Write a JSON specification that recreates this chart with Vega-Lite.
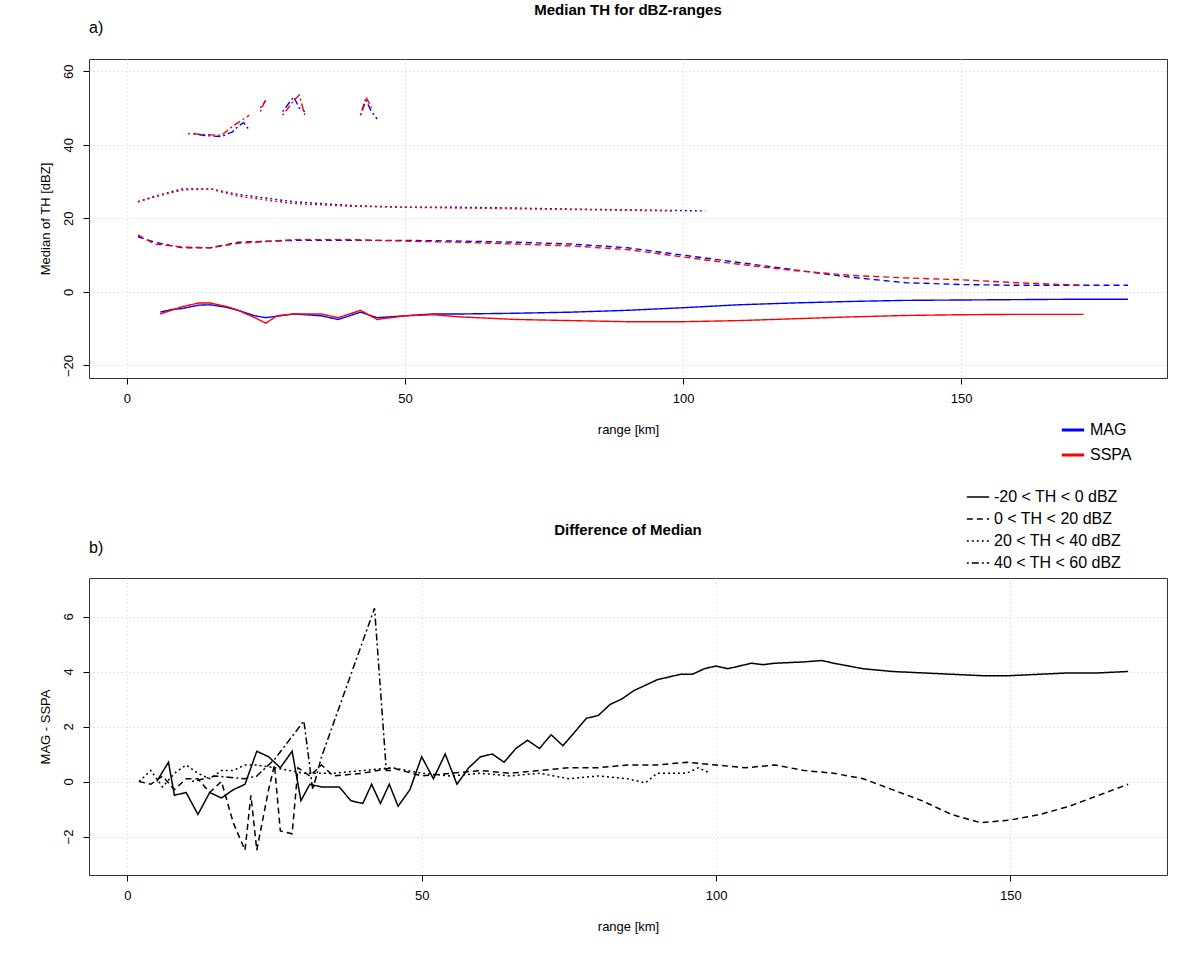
{
"$schema":"https://vega.github.io/schema/vega-lite/v6.json",
"padding":{"left":38,"top":2,"right":14,"bottom":5},
"background":"white",
"config":{"font":"Liberation Sans","view":{"stroke":"#333","strokeWidth":1},
"axis":{"labelFontSize":13,"titleFontSize":13,"titleFontWeight":"normal","labelColor":"black","titleColor":"black","domain":false,"tickColor":"black","tickSize":6,"grid":true,"gridDash":[1,3],"gridColor":"#ccc","labelPadding":8},
"title":{"fontSize":15,"fontWeight":"bold","anchor":"middle"}},
"datasets":{
"a":[
{"src":"MAG","type":"-20 < TH < 0 dBZ","seg":1,"x":6,"y":-5.5},{"src":"MAG","type":"-20 < TH < 0 dBZ","seg":1,"x":8,"y":-4.8},{"src":"MAG","type":"-20 < TH < 0 dBZ","seg":1,"x":10,"y":-4.5},{"src":"MAG","type":"-20 < TH < 0 dBZ","seg":1,"x":13,"y":-3.6},{"src":"MAG","type":"-20 < TH < 0 dBZ","seg":1,"x":15,"y":-3.5},{"src":"MAG","type":"-20 < TH < 0 dBZ","seg":1,"x":18,"y":-4.2},{"src":"MAG","type":"-20 < TH < 0 dBZ","seg":1,"x":20,"y":-5},{"src":"MAG","type":"-20 < TH < 0 dBZ","seg":1,"x":23,"y":-6.5},{"src":"MAG","type":"-20 < TH < 0 dBZ","seg":1,"x":25,"y":-7},{"src":"MAG","type":"-20 < TH < 0 dBZ","seg":1,"x":30,"y":-6},{"src":"MAG","type":"-20 < TH < 0 dBZ","seg":1,"x":35,"y":-6.5},{"src":"MAG","type":"-20 < TH < 0 dBZ","seg":1,"x":38,"y":-7.5},{"src":"MAG","type":"-20 < TH < 0 dBZ","seg":1,"x":42,"y":-5.5},{"src":"MAG","type":"-20 < TH < 0 dBZ","seg":1,"x":45,"y":-7},{"src":"MAG","type":"-20 < TH < 0 dBZ","seg":1,"x":50,"y":-6.5},{"src":"MAG","type":"-20 < TH < 0 dBZ","seg":1,"x":55,"y":-6},{"src":"MAG","type":"-20 < TH < 0 dBZ","seg":1,"x":60,"y":-6},{"src":"MAG","type":"-20 < TH < 0 dBZ","seg":1,"x":70,"y":-5.8},{"src":"MAG","type":"-20 < TH < 0 dBZ","seg":1,"x":80,"y":-5.5},{"src":"MAG","type":"-20 < TH < 0 dBZ","seg":1,"x":90,"y":-5},{"src":"MAG","type":"-20 < TH < 0 dBZ","seg":1,"x":100,"y":-4.3},{"src":"MAG","type":"-20 < TH < 0 dBZ","seg":1,"x":110,"y":-3.5},{"src":"MAG","type":"-20 < TH < 0 dBZ","seg":1,"x":120,"y":-3},{"src":"MAG","type":"-20 < TH < 0 dBZ","seg":1,"x":130,"y":-2.6},{"src":"MAG","type":"-20 < TH < 0 dBZ","seg":1,"x":140,"y":-2.3},{"src":"MAG","type":"-20 < TH < 0 dBZ","seg":1,"x":150,"y":-2.2},{"src":"MAG","type":"-20 < TH < 0 dBZ","seg":1,"x":160,"y":-2.1},{"src":"MAG","type":"-20 < TH < 0 dBZ","seg":1,"x":170,"y":-2},{"src":"MAG","type":"-20 < TH < 0 dBZ","seg":1,"x":180,"y":-2},
{"src":"SSPA","type":"-20 < TH < 0 dBZ","seg":1,"x":6,"y":-6},{"src":"SSPA","type":"-20 < TH < 0 dBZ","seg":1,"x":8,"y":-5},{"src":"SSPA","type":"-20 < TH < 0 dBZ","seg":1,"x":10,"y":-4},{"src":"SSPA","type":"-20 < TH < 0 dBZ","seg":1,"x":13,"y":-3},{"src":"SSPA","type":"-20 < TH < 0 dBZ","seg":1,"x":15,"y":-3},{"src":"SSPA","type":"-20 < TH < 0 dBZ","seg":1,"x":18,"y":-4},{"src":"SSPA","type":"-20 < TH < 0 dBZ","seg":1,"x":20,"y":-5},{"src":"SSPA","type":"-20 < TH < 0 dBZ","seg":1,"x":23,"y":-7},{"src":"SSPA","type":"-20 < TH < 0 dBZ","seg":1,"x":25,"y":-8.5},{"src":"SSPA","type":"-20 < TH < 0 dBZ","seg":1,"x":27,"y":-6.5},{"src":"SSPA","type":"-20 < TH < 0 dBZ","seg":1,"x":30,"y":-6},{"src":"SSPA","type":"-20 < TH < 0 dBZ","seg":1,"x":35,"y":-6},{"src":"SSPA","type":"-20 < TH < 0 dBZ","seg":1,"x":38,"y":-7},{"src":"SSPA","type":"-20 < TH < 0 dBZ","seg":1,"x":42,"y":-5},{"src":"SSPA","type":"-20 < TH < 0 dBZ","seg":1,"x":45,"y":-7.5},{"src":"SSPA","type":"-20 < TH < 0 dBZ","seg":1,"x":50,"y":-6.5},{"src":"SSPA","type":"-20 < TH < 0 dBZ","seg":1,"x":55,"y":-6.2},{"src":"SSPA","type":"-20 < TH < 0 dBZ","seg":1,"x":60,"y":-6.8},{"src":"SSPA","type":"-20 < TH < 0 dBZ","seg":1,"x":70,"y":-7.5},{"src":"SSPA","type":"-20 < TH < 0 dBZ","seg":1,"x":80,"y":-7.8},{"src":"SSPA","type":"-20 < TH < 0 dBZ","seg":1,"x":90,"y":-8.1},{"src":"SSPA","type":"-20 < TH < 0 dBZ","seg":1,"x":100,"y":-8.1},{"src":"SSPA","type":"-20 < TH < 0 dBZ","seg":1,"x":110,"y":-7.8},{"src":"SSPA","type":"-20 < TH < 0 dBZ","seg":1,"x":120,"y":-7.3},{"src":"SSPA","type":"-20 < TH < 0 dBZ","seg":1,"x":130,"y":-6.8},{"src":"SSPA","type":"-20 < TH < 0 dBZ","seg":1,"x":140,"y":-6.4},{"src":"SSPA","type":"-20 < TH < 0 dBZ","seg":1,"x":150,"y":-6.2},{"src":"SSPA","type":"-20 < TH < 0 dBZ","seg":1,"x":160,"y":-6.1},{"src":"SSPA","type":"-20 < TH < 0 dBZ","seg":1,"x":172,"y":-6.1},
{"src":"MAG","type":"0 < TH < 20 dBZ","seg":1,"x":2,"y":15},{"src":"MAG","type":"0 < TH < 20 dBZ","seg":1,"x":5,"y":13.5},{"src":"MAG","type":"0 < TH < 20 dBZ","seg":1,"x":10,"y":12},{"src":"MAG","type":"0 < TH < 20 dBZ","seg":1,"x":15,"y":12},{"src":"MAG","type":"0 < TH < 20 dBZ","seg":1,"x":20,"y":13.5},{"src":"MAG","type":"0 < TH < 20 dBZ","seg":1,"x":30,"y":14},{"src":"MAG","type":"0 < TH < 20 dBZ","seg":1,"x":40,"y":14},{"src":"MAG","type":"0 < TH < 20 dBZ","seg":1,"x":50,"y":14},{"src":"MAG","type":"0 < TH < 20 dBZ","seg":1,"x":60,"y":13.8},{"src":"MAG","type":"0 < TH < 20 dBZ","seg":1,"x":70,"y":13.5},{"src":"MAG","type":"0 < TH < 20 dBZ","seg":1,"x":80,"y":13},{"src":"MAG","type":"0 < TH < 20 dBZ","seg":1,"x":90,"y":12},{"src":"MAG","type":"0 < TH < 20 dBZ","seg":1,"x":100,"y":10},{"src":"MAG","type":"0 < TH < 20 dBZ","seg":1,"x":110,"y":8},{"src":"MAG","type":"0 < TH < 20 dBZ","seg":1,"x":120,"y":6},{"src":"MAG","type":"0 < TH < 20 dBZ","seg":1,"x":130,"y":4},{"src":"MAG","type":"0 < TH < 20 dBZ","seg":1,"x":140,"y":2.5},{"src":"MAG","type":"0 < TH < 20 dBZ","seg":1,"x":150,"y":2},{"src":"MAG","type":"0 < TH < 20 dBZ","seg":1,"x":160,"y":1.8},{"src":"MAG","type":"0 < TH < 20 dBZ","seg":1,"x":170,"y":1.8},{"src":"MAG","type":"0 < TH < 20 dBZ","seg":1,"x":180,"y":1.8},
{"src":"SSPA","type":"0 < TH < 20 dBZ","seg":1,"x":2,"y":15.5},{"src":"SSPA","type":"0 < TH < 20 dBZ","seg":1,"x":5,"y":13},{"src":"SSPA","type":"0 < TH < 20 dBZ","seg":1,"x":10,"y":12.2},{"src":"SSPA","type":"0 < TH < 20 dBZ","seg":1,"x":15,"y":12},{"src":"SSPA","type":"0 < TH < 20 dBZ","seg":1,"x":20,"y":13.2},{"src":"SSPA","type":"0 < TH < 20 dBZ","seg":1,"x":30,"y":14.2},{"src":"SSPA","type":"0 < TH < 20 dBZ","seg":1,"x":40,"y":14.2},{"src":"SSPA","type":"0 < TH < 20 dBZ","seg":1,"x":50,"y":13.8},{"src":"SSPA","type":"0 < TH < 20 dBZ","seg":1,"x":60,"y":13.5},{"src":"SSPA","type":"0 < TH < 20 dBZ","seg":1,"x":70,"y":13},{"src":"SSPA","type":"0 < TH < 20 dBZ","seg":1,"x":80,"y":12.5},{"src":"SSPA","type":"0 < TH < 20 dBZ","seg":1,"x":90,"y":11.5},{"src":"SSPA","type":"0 < TH < 20 dBZ","seg":1,"x":100,"y":9.5},{"src":"SSPA","type":"0 < TH < 20 dBZ","seg":1,"x":110,"y":7.5},{"src":"SSPA","type":"0 < TH < 20 dBZ","seg":1,"x":120,"y":5.8},{"src":"SSPA","type":"0 < TH < 20 dBZ","seg":1,"x":130,"y":4.5},{"src":"SSPA","type":"0 < TH < 20 dBZ","seg":1,"x":140,"y":3.8},{"src":"SSPA","type":"0 < TH < 20 dBZ","seg":1,"x":150,"y":3.3},{"src":"SSPA","type":"0 < TH < 20 dBZ","seg":1,"x":160,"y":2.5},{"src":"SSPA","type":"0 < TH < 20 dBZ","seg":1,"x":172,"y":1.8},
{"src":"MAG","type":"20 < TH < 40 dBZ","seg":1,"x":2,"y":24.5},{"src":"MAG","type":"20 < TH < 40 dBZ","seg":1,"x":5,"y":26},{"src":"MAG","type":"20 < TH < 40 dBZ","seg":1,"x":10,"y":28},{"src":"MAG","type":"20 < TH < 40 dBZ","seg":1,"x":15,"y":28},{"src":"MAG","type":"20 < TH < 40 dBZ","seg":1,"x":20,"y":26.5},{"src":"MAG","type":"20 < TH < 40 dBZ","seg":1,"x":30,"y":24.5},{"src":"MAG","type":"20 < TH < 40 dBZ","seg":1,"x":40,"y":23.5},{"src":"MAG","type":"20 < TH < 40 dBZ","seg":1,"x":50,"y":23},{"src":"MAG","type":"20 < TH < 40 dBZ","seg":1,"x":60,"y":23},{"src":"MAG","type":"20 < TH < 40 dBZ","seg":1,"x":70,"y":22.8},{"src":"MAG","type":"20 < TH < 40 dBZ","seg":1,"x":80,"y":22.5},{"src":"MAG","type":"20 < TH < 40 dBZ","seg":1,"x":90,"y":22.3},{"src":"MAG","type":"20 < TH < 40 dBZ","seg":1,"x":104,"y":22},
{"src":"SSPA","type":"20 < TH < 40 dBZ","seg":1,"x":2,"y":24.5},{"src":"SSPA","type":"20 < TH < 40 dBZ","seg":1,"x":5,"y":25.8},{"src":"SSPA","type":"20 < TH < 40 dBZ","seg":1,"x":10,"y":27.7},{"src":"SSPA","type":"20 < TH < 40 dBZ","seg":1,"x":15,"y":28},{"src":"SSPA","type":"20 < TH < 40 dBZ","seg":1,"x":20,"y":26},{"src":"SSPA","type":"20 < TH < 40 dBZ","seg":1,"x":30,"y":24},{"src":"SSPA","type":"20 < TH < 40 dBZ","seg":1,"x":40,"y":23.3},{"src":"SSPA","type":"20 < TH < 40 dBZ","seg":1,"x":50,"y":23},{"src":"SSPA","type":"20 < TH < 40 dBZ","seg":1,"x":60,"y":22.8},{"src":"SSPA","type":"20 < TH < 40 dBZ","seg":1,"x":70,"y":22.6},{"src":"SSPA","type":"20 < TH < 40 dBZ","seg":1,"x":80,"y":22.4},{"src":"SSPA","type":"20 < TH < 40 dBZ","seg":1,"x":90,"y":22.2},{"src":"SSPA","type":"20 < TH < 40 dBZ","seg":1,"x":98,"y":22},
{"src":"MAG","type":"40 < TH < 60 dBZ","seg":1,"x":12,"y":43},{"src":"MAG","type":"40 < TH < 60 dBZ","seg":1,"x":14,"y":42.5},{"src":"MAG","type":"40 < TH < 60 dBZ","seg":1,"x":17,"y":42.2},{"src":"MAG","type":"40 < TH < 60 dBZ","seg":1,"x":19,"y":43.5},{"src":"MAG","type":"40 < TH < 60 dBZ","seg":1,"x":20,"y":45},{"src":"MAG","type":"40 < TH < 60 dBZ","seg":1,"x":21,"y":46},{"src":"MAG","type":"40 < TH < 60 dBZ","seg":1,"x":22,"y":44},
{"src":"MAG","type":"40 < TH < 60 dBZ","seg":2,"x":24,"y":50},{"src":"MAG","type":"40 < TH < 60 dBZ","seg":2,"x":25,"y":52},
{"src":"MAG","type":"40 < TH < 60 dBZ","seg":3,"x":28,"y":49},{"src":"MAG","type":"40 < TH < 60 dBZ","seg":3,"x":29,"y":51},{"src":"MAG","type":"40 < TH < 60 dBZ","seg":3,"x":30,"y":53},{"src":"MAG","type":"40 < TH < 60 dBZ","seg":3,"x":31,"y":50},{"src":"MAG","type":"40 < TH < 60 dBZ","seg":3,"x":32,"y":49},
{"src":"MAG","type":"40 < TH < 60 dBZ","seg":4,"x":42,"y":48},{"src":"MAG","type":"40 < TH < 60 dBZ","seg":4,"x":43,"y":52},{"src":"MAG","type":"40 < TH < 60 dBZ","seg":4,"x":44,"y":49},{"src":"MAG","type":"40 < TH < 60 dBZ","seg":4,"x":45,"y":47},
{"src":"SSPA","type":"40 < TH < 60 dBZ","seg":1,"x":11,"y":43},{"src":"SSPA","type":"40 < TH < 60 dBZ","seg":1,"x":14,"y":42.8},{"src":"SSPA","type":"40 < TH < 60 dBZ","seg":1,"x":17,"y":42.5},{"src":"SSPA","type":"40 < TH < 60 dBZ","seg":1,"x":19,"y":45},{"src":"SSPA","type":"40 < TH < 60 dBZ","seg":1,"x":21,"y":47},{"src":"SSPA","type":"40 < TH < 60 dBZ","seg":1,"x":22,"y":48},
{"src":"SSPA","type":"40 < TH < 60 dBZ","seg":2,"x":24,"y":49},{"src":"SSPA","type":"40 < TH < 60 dBZ","seg":2,"x":25,"y":52.5},
{"src":"SSPA","type":"40 < TH < 60 dBZ","seg":3,"x":28,"y":48},{"src":"SSPA","type":"40 < TH < 60 dBZ","seg":3,"x":30,"y":52},{"src":"SSPA","type":"40 < TH < 60 dBZ","seg":3,"x":31,"y":53.5},{"src":"SSPA","type":"40 < TH < 60 dBZ","seg":3,"x":32,"y":48},
{"src":"SSPA","type":"40 < TH < 60 dBZ","seg":4,"x":42,"y":48},{"src":"SSPA","type":"40 < TH < 60 dBZ","seg":4,"x":43,"y":53},{"src":"SSPA","type":"40 < TH < 60 dBZ","seg":4,"x":44,"y":50}
],
"b":[
{"type":"-20 < TH < 0 dBZ","x":5,"y":0},{"type":"-20 < TH < 0 dBZ","x":7,"y":0.7},{"type":"-20 < TH < 0 dBZ","x":8,"y":-0.5},{"type":"-20 < TH < 0 dBZ","x":10,"y":-0.4},{"type":"-20 < TH < 0 dBZ","x":12,"y":-1.2},{"type":"-20 < TH < 0 dBZ","x":14,"y":-0.4},{"type":"-20 < TH < 0 dBZ","x":16,"y":-0.6},{"type":"-20 < TH < 0 dBZ","x":18,"y":-0.3},{"type":"-20 < TH < 0 dBZ","x":20,"y":-0.1},{"type":"-20 < TH < 0 dBZ","x":22,"y":1.1},{"type":"-20 < TH < 0 dBZ","x":24,"y":0.9},{"type":"-20 < TH < 0 dBZ","x":26,"y":0.5},{"type":"-20 < TH < 0 dBZ","x":28,"y":1.1},{"type":"-20 < TH < 0 dBZ","x":29.5,"y":-0.7},{"type":"-20 < TH < 0 dBZ","x":31,"y":-0.1},{"type":"-20 < TH < 0 dBZ","x":33,"y":-0.2},{"type":"-20 < TH < 0 dBZ","x":36,"y":-0.2},{"type":"-20 < TH < 0 dBZ","x":38,"y":-0.7},{"type":"-20 < TH < 0 dBZ","x":40,"y":-0.8},{"type":"-20 < TH < 0 dBZ","x":41.5,"y":-0.1},{"type":"-20 < TH < 0 dBZ","x":43,"y":-0.8},{"type":"-20 < TH < 0 dBZ","x":44.5,"y":-0.1},{"type":"-20 < TH < 0 dBZ","x":46,"y":-0.9},{"type":"-20 < TH < 0 dBZ","x":48,"y":-0.3},{"type":"-20 < TH < 0 dBZ","x":50,"y":0.9},{"type":"-20 < TH < 0 dBZ","x":52,"y":0.1},{"type":"-20 < TH < 0 dBZ","x":54,"y":1.0},{"type":"-20 < TH < 0 dBZ","x":56,"y":-0.1},{"type":"-20 < TH < 0 dBZ","x":58,"y":0.5},{"type":"-20 < TH < 0 dBZ","x":60,"y":0.9},{"type":"-20 < TH < 0 dBZ","x":62,"y":1.0},{"type":"-20 < TH < 0 dBZ","x":64,"y":0.7},{"type":"-20 < TH < 0 dBZ","x":66,"y":1.2},{"type":"-20 < TH < 0 dBZ","x":68,"y":1.5},{"type":"-20 < TH < 0 dBZ","x":70,"y":1.2},{"type":"-20 < TH < 0 dBZ","x":72,"y":1.7},{"type":"-20 < TH < 0 dBZ","x":74,"y":1.3},{"type":"-20 < TH < 0 dBZ","x":76,"y":1.8},{"type":"-20 < TH < 0 dBZ","x":78,"y":2.3},{"type":"-20 < TH < 0 dBZ","x":80,"y":2.4},{"type":"-20 < TH < 0 dBZ","x":82,"y":2.8},{"type":"-20 < TH < 0 dBZ","x":84,"y":3.0},{"type":"-20 < TH < 0 dBZ","x":86,"y":3.3},{"type":"-20 < TH < 0 dBZ","x":88,"y":3.5},{"type":"-20 < TH < 0 dBZ","x":90,"y":3.7},{"type":"-20 < TH < 0 dBZ","x":92,"y":3.8},{"type":"-20 < TH < 0 dBZ","x":94,"y":3.9},{"type":"-20 < TH < 0 dBZ","x":96,"y":3.9},{"type":"-20 < TH < 0 dBZ","x":98,"y":4.1},{"type":"-20 < TH < 0 dBZ","x":100,"y":4.2},{"type":"-20 < TH < 0 dBZ","x":102,"y":4.1},{"type":"-20 < TH < 0 dBZ","x":104,"y":4.2},{"type":"-20 < TH < 0 dBZ","x":106,"y":4.3},{"type":"-20 < TH < 0 dBZ","x":108,"y":4.25},{"type":"-20 < TH < 0 dBZ","x":110,"y":4.3},{"type":"-20 < TH < 0 dBZ","x":115,"y":4.35},{"type":"-20 < TH < 0 dBZ","x":118,"y":4.4},{"type":"-20 < TH < 0 dBZ","x":120,"y":4.3},{"type":"-20 < TH < 0 dBZ","x":125,"y":4.1},{"type":"-20 < TH < 0 dBZ","x":130,"y":4.0},{"type":"-20 < TH < 0 dBZ","x":135,"y":3.95},{"type":"-20 < TH < 0 dBZ","x":140,"y":3.9},{"type":"-20 < TH < 0 dBZ","x":145,"y":3.85},{"type":"-20 < TH < 0 dBZ","x":150,"y":3.85},{"type":"-20 < TH < 0 dBZ","x":155,"y":3.9},{"type":"-20 < TH < 0 dBZ","x":160,"y":3.95},{"type":"-20 < TH < 0 dBZ","x":165,"y":3.95},{"type":"-20 < TH < 0 dBZ","x":170,"y":4.0},
{"type":"0 < TH < 20 dBZ","x":2,"y":0},{"type":"0 < TH < 20 dBZ","x":4,"y":-0.1},{"type":"0 < TH < 20 dBZ","x":6,"y":0.2},{"type":"0 < TH < 20 dBZ","x":8,"y":-0.3},{"type":"0 < TH < 20 dBZ","x":10,"y":0.1},{"type":"0 < TH < 20 dBZ","x":12,"y":0.1},{"type":"0 < TH < 20 dBZ","x":14,"y":-0.4},{"type":"0 < TH < 20 dBZ","x":16,"y":0},{"type":"0 < TH < 20 dBZ","x":18,"y":-1.5},{"type":"0 < TH < 20 dBZ","x":20,"y":-2.5},{"type":"0 < TH < 20 dBZ","x":21,"y":-0.5},{"type":"0 < TH < 20 dBZ","x":22,"y":-2.5},{"type":"0 < TH < 20 dBZ","x":24,"y":-0.3},{"type":"0 < TH < 20 dBZ","x":25,"y":0.6},{"type":"0 < TH < 20 dBZ","x":26,"y":-1.8},{"type":"0 < TH < 20 dBZ","x":28,"y":-1.9},{"type":"0 < TH < 20 dBZ","x":29,"y":0.5},{"type":"0 < TH < 20 dBZ","x":31,"y":0.2},{"type":"0 < TH < 20 dBZ","x":33,"y":0.6},{"type":"0 < TH < 20 dBZ","x":35,"y":0.2},{"type":"0 < TH < 20 dBZ","x":40,"y":0.3},{"type":"0 < TH < 20 dBZ","x":45,"y":0.5},{"type":"0 < TH < 20 dBZ","x":50,"y":0.2},{"type":"0 < TH < 20 dBZ","x":55,"y":0.3},{"type":"0 < TH < 20 dBZ","x":60,"y":0.4},{"type":"0 < TH < 20 dBZ","x":65,"y":0.3},{"type":"0 < TH < 20 dBZ","x":70,"y":0.4},{"type":"0 < TH < 20 dBZ","x":75,"y":0.5},{"type":"0 < TH < 20 dBZ","x":80,"y":0.5},{"type":"0 < TH < 20 dBZ","x":85,"y":0.6},{"type":"0 < TH < 20 dBZ","x":90,"y":0.6},{"type":"0 < TH < 20 dBZ","x":95,"y":0.7},{"type":"0 < TH < 20 dBZ","x":100,"y":0.6},{"type":"0 < TH < 20 dBZ","x":105,"y":0.5},{"type":"0 < TH < 20 dBZ","x":110,"y":0.6},{"type":"0 < TH < 20 dBZ","x":115,"y":0.4},{"type":"0 < TH < 20 dBZ","x":120,"y":0.3},{"type":"0 < TH < 20 dBZ","x":125,"y":0.1},{"type":"0 < TH < 20 dBZ","x":130,"y":-0.3},{"type":"0 < TH < 20 dBZ","x":135,"y":-0.7},{"type":"0 < TH < 20 dBZ","x":140,"y":-1.2},{"type":"0 < TH < 20 dBZ","x":145,"y":-1.5},{"type":"0 < TH < 20 dBZ","x":150,"y":-1.4},{"type":"0 < TH < 20 dBZ","x":155,"y":-1.2},{"type":"0 < TH < 20 dBZ","x":160,"y":-0.9},{"type":"0 < TH < 20 dBZ","x":165,"y":-0.5},{"type":"0 < TH < 20 dBZ","x":170,"y":-0.1},
{"type":"20 < TH < 40 dBZ","x":2,"y":0},{"type":"20 < TH < 40 dBZ","x":4,"y":0.4},{"type":"20 < TH < 40 dBZ","x":6,"y":-0.2},{"type":"20 < TH < 40 dBZ","x":8,"y":0.3},{"type":"20 < TH < 40 dBZ","x":10,"y":0.6},{"type":"20 < TH < 40 dBZ","x":12,"y":0.3},{"type":"20 < TH < 40 dBZ","x":14,"y":0.1},{"type":"20 < TH < 40 dBZ","x":16,"y":0.4},{"type":"20 < TH < 40 dBZ","x":18,"y":0.4},{"type":"20 < TH < 40 dBZ","x":20,"y":0.6},{"type":"20 < TH < 40 dBZ","x":22,"y":0.6},{"type":"20 < TH < 40 dBZ","x":25,"y":0.5},{"type":"20 < TH < 40 dBZ","x":30,"y":0.3},{"type":"20 < TH < 40 dBZ","x":35,"y":0.3},{"type":"20 < TH < 40 dBZ","x":40,"y":0.4},{"type":"20 < TH < 40 dBZ","x":45,"y":0.5},{"type":"20 < TH < 40 dBZ","x":50,"y":0.3},{"type":"20 < TH < 40 dBZ","x":55,"y":0.2},{"type":"20 < TH < 40 dBZ","x":60,"y":0.3},{"type":"20 < TH < 40 dBZ","x":65,"y":0.2},{"type":"20 < TH < 40 dBZ","x":70,"y":0.3},{"type":"20 < TH < 40 dBZ","x":75,"y":0.1},{"type":"20 < TH < 40 dBZ","x":80,"y":0.2},{"type":"20 < TH < 40 dBZ","x":85,"y":0.1},{"type":"20 < TH < 40 dBZ","x":88,"y":-0.05},{"type":"20 < TH < 40 dBZ","x":90,"y":0.3},{"type":"20 < TH < 40 dBZ","x":95,"y":0.3},{"type":"20 < TH < 40 dBZ","x":97,"y":0.5},{"type":"20 < TH < 40 dBZ","x":99,"y":0.3},
{"type":"40 < TH < 60 dBZ","x":11,"y":0},{"type":"40 < TH < 60 dBZ","x":15,"y":0.2},{"type":"40 < TH < 60 dBZ","x":20,"y":0.1},{"type":"40 < TH < 60 dBZ","x":22,"y":0.2},{"type":"40 < TH < 60 dBZ","x":25,"y":0.8},{"type":"40 < TH < 60 dBZ","x":30,"y":2.2},{"type":"40 < TH < 60 dBZ","x":31.5,"y":-0.3},{"type":"40 < TH < 60 dBZ","x":33,"y":0.9},{"type":"40 < TH < 60 dBZ","x":42,"y":6.3},{"type":"40 < TH < 60 dBZ","x":44,"y":0.4},{"type":"40 < TH < 60 dBZ","x":45,"y":0.4}
]},
"spacing":-50,
"resolve":{"scale":{"x":"independent","y":"independent"},"legend":{"strokeDash":"independent","color":"independent"}},
"vconcat":[
{"width":1078,"height":319,
"title":{"text":"Median TH for dBZ-ranges","offset":2},
"layer":[
{"mark":{"type":"rule","stroke":"#bbb","strokeWidth":3,"strokeDash":[4,3]},"encoding":{"y":{"datum":0}}},
{"data":{"name":"a"},"mark":{"type":"line","strokeWidth":1.4},
"encoding":{
"x":{"field":"x","type":"quantitative","scale":{"domain":[-6.8,187],"nice":false,"zero":false},"axis":{"values":[0,50,100,150],"title":"range [km]","titlePadding":18}},
"y":{"field":"y","type":"quantitative","scale":{"domain":[-23.4,63.3],"nice":false},"axis":{"values":[-20,0,20,40,60],"title":"Median of TH [dBZ]","labelAngle":-90,"labelAlign":"center","labelBaseline":"bottom","titlePadding":10}},
"color":{"field":"src","type":"nominal","scale":{"domain":["MAG","SSPA"],"range":["#0000ff","#ff0000"]},"legend":{"title":null,"orient":"none","legendX":971,"legendY":358,"symbolType":"stroke","symbolStrokeWidth":3,"symbolSize":500,"labelFontSize":16,"rowPadding":4}},
"strokeDash":{"field":"type","type":"nominal","scale":{"domain":["-20 < TH < 0 dBZ","0 < TH < 20 dBZ","20 < TH < 40 dBZ","40 < TH < 60 dBZ"],"range":[[1,0],[6,4],[2,3],[2,3,7,3]]},"legend":{"title":null,"orient":"none","legendX":877,"legendY":426,"symbolType":"stroke","symbolStrokeColor":"black","symbolStrokeWidth":1.5,"symbolSize":500,"labelFontSize":16,"rowPadding":2}},
"detail":{"field":"seg"}}},
{"data":{"values":[{"lab":"a)","x":-6.8,"y":71.7}]},"mark":{"type":"text","fontSize":16,"align":"left","baseline":"middle","clip":false},"encoding":{"x":{"field":"x","type":"quantitative"},"y":{"field":"y","type":"quantitative"},"text":{"field":"lab"}}}
]},
{"width":1078,"height":297,
"title":{"text":"Difference of Median","offset":2},
"layer":[
{"mark":{"type":"rule","stroke":"#bbb","strokeWidth":3,"strokeDash":[4,3]},"encoding":{"y":{"datum":0}}},
{"data":{"name":"b"},"mark":{"type":"line","strokeWidth":1.5,"color":"black"},
"encoding":{
"x":{"field":"x","type":"quantitative","scale":{"domain":[-6.5,176.6],"nice":false,"zero":false},"axis":{"values":[0,50,100,150],"title":"range [km]","titlePadding":18}},
"y":{"field":"y","type":"quantitative","scale":{"domain":[-3.4,7.4],"nice":false},"axis":{"values":[-2,0,2,4,6],"title":"MAG - SSPA","labelAngle":-90,"labelAlign":"center","labelBaseline":"bottom","titlePadding":10}},
"strokeDash":{"field":"type","type":"nominal","scale":{"domain":["-20 < TH < 0 dBZ","0 < TH < 20 dBZ","20 < TH < 40 dBZ","40 < TH < 60 dBZ"],"range":[[1,0],[6,4],[2,3],[2,3,7,3]]},"legend":null}}},
{"data":{"values":[{"lab":"b)","x":-6.5,"y":8.5}]},"mark":{"type":"text","fontSize":16,"align":"left","baseline":"middle","clip":false},"encoding":{"x":{"field":"x","type":"quantitative"},"y":{"field":"y","type":"quantitative"},"text":{"field":"lab"}}}
]}
]}
